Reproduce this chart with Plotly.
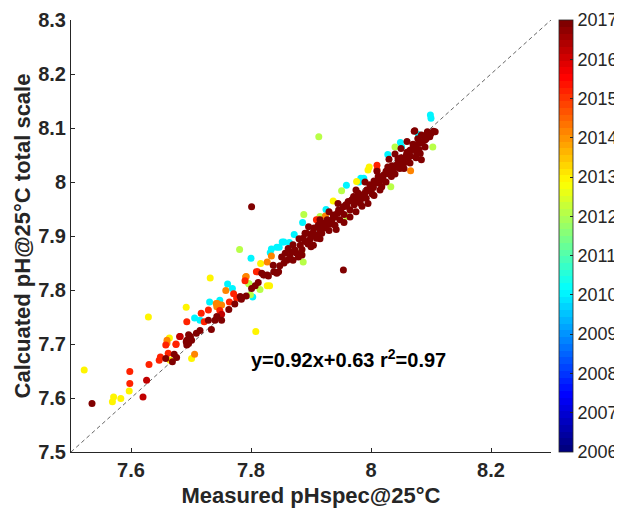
import plotly.graph_objects as go

# ---- data (measured pH, calculated pH) grouped by year ----
x_2010 = [7.800, 7.761, 7.769, 7.803, 7.731, 7.748, 7.706, 7.715, 7.832, 7.843, 7.847, 7.855,
          7.872, 7.886, 7.925, 7.959, 7.983, 7.988, 8.028, 8.049, 8.051, 8.079, 8.099, 8.100,
          7.852, 7.864, 7.980, 7.834]
y_2010 = [7.859, 7.811, 7.803, 7.787, 7.778, 7.781, 7.748, 7.744, 7.869, 7.879, 7.879, 7.889,
          7.903, 7.925, 7.949, 7.994, 8.007, 8.007, 8.051, 8.073, 8.065, 8.088, 8.124, 8.118,
          7.889, 7.888, 8.000, 7.876]

x_2012 = [7.781, 7.797, 7.799, 7.815, 7.884, 7.887, 7.915, 7.951, 7.959, 7.913, 8.040, 8.103,
          8.033, 7.796, 7.888]
y_2012 = [7.875, 7.811, 7.791, 7.801, 7.871, 7.852, 7.936, 7.984, 7.936, 8.084, 8.065, 8.065,
          7.991, 7.812, 7.940]

x_2013 = [7.522, 7.571, 7.569, 7.583, 7.597, 7.629, 7.664, 7.692, 7.732, 7.808, 7.816, 7.827,
          7.701, 7.937, 7.976, 7.997, 7.995, 7.665, 7.831]
y_2013 = [7.652, 7.602, 7.593, 7.599, 7.613, 7.750, 7.711, 7.768, 7.822, 7.723, 7.849, 7.808,
          7.673, 7.965, 8.001, 8.028, 8.022, 7.670, 7.808]

x_2014 = [7.660, 7.660, 7.744, 7.751, 7.743, 7.758, 7.792, 7.827, 7.834, 7.912, 8.066, 7.706,
          7.742, 7.791, 7.924]
y_2014 = [7.702, 7.707, 7.775, 7.772, 7.769, 7.799, 7.825, 7.852, 7.863, 7.930, 8.021, 7.681,
          7.775, 7.824, 7.937]

x_2015 = [7.598, 7.598, 7.630, 7.647, 7.649, 7.662, 7.658, 7.675, 7.693, 7.675, 7.729, 7.717,
          7.722, 7.748, 7.764, 7.771, 7.776, 7.790, 7.809, 7.811, 7.909, 8.010, 8.010, 7.916]
y_2015 = [7.627, 7.649, 7.662, 7.670, 7.676, 7.683, 7.698, 7.700, 7.741, 7.699, 7.763, 7.757,
          7.741, 7.762, 7.778, 7.793, 7.785, 7.817, 7.834, 7.834, 7.930, 8.031, 8.022, 7.925]

x_2016 = [7.620, 7.681, 7.682, 7.626, 7.751, 7.862]
y_2016 = [7.602, 7.714, 7.714, 7.633, 7.755, 7.872]

x_2017 = [7.535, 7.658, 7.669, 7.672, 7.676, 7.692, 7.696, 7.693, 7.699, 7.693, 7.696, 7.701,
          7.709, 7.715, 7.734, 7.729, 7.740, 7.743, 7.751, 7.763, 7.773, 7.782, 7.784, 7.792,
          7.801, 7.807, 7.812, 7.818, 7.827, 7.838, 7.837, 7.843, 7.821, 7.829, 7.846, 7.862,
          7.865, 7.879, 7.851, 7.873, 7.882, 7.887, 7.893, 7.896, 7.903, 7.909, 7.915, 7.920,
          7.927, 7.937, 7.942, 7.946, 7.954, 7.962, 7.971, 7.979, 7.987, 7.993, 7.982, 7.965,
          7.898, 7.904, 7.801, 7.954,
          7.968, 7.996, 8.004, 8.009, 8.015, 8.021, 8.026, 8.032, 8.040, 8.046, 8.054, 8.059,
          8.065, 8.072, 8.082, 8.090, 8.084, 8.073, 8.094, 8.107, 8.082, 8.084, 8.048, 8.018,
          8.098, 8.104, 8.072,
          7.857, 7.870, 7.890, 7.900, 7.912, 7.918, 7.925, 7.930, 7.935, 7.940, 7.950, 7.955,
          7.958, 7.975, 7.985, 7.990, 7.998, 8.000, 8.005, 8.012, 8.020, 8.025, 8.030, 8.035,
          8.038, 8.043, 8.050, 8.055, 8.060, 8.062, 8.068, 8.070, 8.075, 8.078, 8.080, 8.088,
          8.092, 8.095, 8.100, 8.086, 8.076, 8.066, 8.052, 8.045, 8.034, 8.028, 8.014, 8.002,
          7.992, 7.978, 7.972, 7.960, 7.948, 7.944, 7.933, 7.922, 7.910, 7.905, 7.895, 7.885,
          7.876, 7.868, 7.855, 7.848, 7.860,
          7.955, 7.965, 7.975, 7.985, 7.995, 8.005, 8.015, 8.025, 8.040, 8.055, 8.065, 8.075,
          8.090, 8.060, 8.050, 8.040, 8.030, 8.010, 7.990, 7.975, 7.945, 7.930, 7.915, 7.890,
          7.880, 7.870, 7.885, 7.900, 7.915, 7.930, 7.940]
y_2017 = [7.590, 7.673, 7.667, 7.681, 7.675, 7.704, 7.701, 7.698, 7.714, 7.707, 7.717, 7.707,
          7.720, 7.725, 7.727, 7.744, 7.744, 7.751, 7.744, 7.764, 7.774, 7.788, 7.783, 7.789,
          7.803, 7.808, 7.814, 7.831, 7.828, 7.834, 7.846, 7.831, 7.828, 7.826, 7.834, 7.877,
          7.861, 7.861, 7.861, 7.874, 7.883, 7.896, 7.905, 7.917, 7.906, 7.896, 7.911, 7.924,
          7.930, 7.939, 7.912, 7.948, 7.954, 7.964, 7.973, 7.979, 7.976, 7.985, 7.961, 7.948,
          7.893, 7.883, 7.954, 7.837,
          7.967, 7.984, 7.990, 7.998, 8.004, 8.013, 8.016, 8.022, 8.028, 8.038, 8.041, 8.050,
          8.059, 8.065, 8.072, 8.078, 8.087, 8.095, 8.093, 8.093, 8.053, 8.041, 8.025, 7.991,
          8.084, 8.094, 8.094,
          7.868, 7.884, 7.890, 7.900, 7.920, 7.905, 7.918, 7.925, 7.930, 7.935, 7.945, 7.940,
          7.958, 7.965, 7.970, 7.980, 7.995, 7.985, 8.002, 8.010, 8.005, 8.020, 8.015, 8.030,
          8.025, 8.032, 8.045, 8.035, 8.055, 8.045, 8.060, 8.070, 8.068, 8.080, 8.060, 8.085,
          8.080, 8.088, 8.090, 8.075, 8.055, 8.048, 8.030, 8.043, 8.010, 8.028, 7.998, 7.978,
          7.970, 7.968, 7.958, 7.955, 7.930, 7.942, 7.922, 7.915, 7.902, 7.915, 7.885, 7.875,
          7.868, 7.870, 7.850, 7.845, 7.855,
          7.925, 7.935, 7.945, 7.955, 7.960, 7.975, 7.985, 8.000, 8.015, 8.025, 8.035, 8.045,
          8.065, 8.075, 8.062, 8.052, 8.042, 8.020, 8.000, 7.985, 7.960, 7.945, 7.930, 7.905,
          7.895, 7.855, 7.865, 7.880, 7.895, 7.910, 7.920]

groups = [(x_2010, y_2010, 2010.1), (x_2012, y_2012, 2012.1), (x_2013, y_2013, 2012.9),
          (x_2014, y_2014, 2014.1), (x_2015, y_2015, 2015.2), (x_2016, y_2016, 2016.2),
          (x_2017, y_2017, 2017.0)]

year_ticks = list(range(2006, 2018))
x_ticks = [7.6, 7.8, 8.0, 8.2]
x_ticktext = ["7.6", "7.8", "8", "8.2"]
y_ticks = [7.5, 7.6, 7.7, 7.8, 7.9, 8.0, 8.1, 8.2, 8.3]
y_ticktext = ["7.5", "7.6", "7.7", "7.8", "7.9", "8", "8.1", "8.2", "8.3"]

xs, ys, cs = [], [], []
for gx, gy, yr in groups:
    xs += gx
    ys += gy
    cs += [yr] * len(gx)


# MATLAB-like jet colormap, 64 steps
def jet(t):
    r = min(max(1.5 - abs(4 * t - 3), 0), 1)
    g = min(max(1.5 - abs(4 * t - 2), 0), 1)
    b = min(max(1.5 - abs(4 * t - 1), 0), 1)
    return f"rgb({int(round(r*255))},{int(round(g*255))},{int(round(b*255))})"


n = 64
cscale = []
for i in range(n):
    c = jet(i / (n - 1))
    cscale.append([i / n, c])
    cscale.append([(i + 1) / n, c])

fig = go.Figure()
fig.add_trace(go.Scatter(x=[7.5, 8.3], y=[7.5, 8.3], mode="lines",
                         line=dict(color="#666666", width=1, dash="4px,3px"),
                         hoverinfo="skip", showlegend=False))
fig.add_trace(go.Scatter(
    x=xs, y=ys, mode="markers", showlegend=False,
    marker=dict(size=7, color=cs, cmin=2006, cmax=2017, colorscale=cscale,
                line=dict(width=0),
                colorbar=dict(x=1.0167, xanchor="left", xpad=0, y=0.5, yanchor="middle",
                              len=1, lenmode="fraction", ypad=0, thickness=14,
                              outlinecolor="#262626", outlinewidth=0.8,
                              tickvals=year_ticks, ticks="inside", ticklen=3,
                              tickcolor="#262626",
                              tickfont=dict(family="Liberation Sans", size=18, color="#262626")))))

axis_font = dict(family="Liberation Sans", size=20, color="#262626", weight="bold")
title_font = dict(family="Liberation Sans", size=22, color="#262626", weight="bold")
fig.update_xaxes(range=[7.5, 8.3], tickvals=x_ticks, ticktext=x_ticktext, automargin=False,
                 showgrid=False, zeroline=False, showline=True, linecolor="#262626",
                 linewidth=1, ticks="inside", ticklen=4, tickcolor="#262626",
                 tickfont=axis_font,
                 title=dict(text="Measured pHspec@25°C", standoff=8, font=title_font))
fig.update_yaxes(range=[7.5, 8.3], tickvals=y_ticks, ticktext=y_ticktext, automargin=False,
                 showgrid=False, zeroline=False, showline=True, linecolor="#262626",
                 linewidth=1, ticks="inside", ticklen=4, tickcolor="#262626",
                 tickfont=axis_font,
                 title=dict(text="Calcuated pH@25°C total scale", standoff=1, font=title_font))

fig.add_annotation(x=7.962, y=7.674, xref="x", yref="y", showarrow=False,
                   text="y=0.92x+0.63 r<sup>2</sup>=0.97",
                   font=dict(family="Liberation Sans", size=20, color="black", weight="bold"))

# the page shows the figure 8px in from its top-left corner, so the figure is sized 614x500
fig.update_layout(width=614, height=500, margin=dict(l=63, r=71, t=12, b=56, autoexpand=False),
                  plot_bgcolor="white", paper_bgcolor="white")

fig.write_html("out.html")
